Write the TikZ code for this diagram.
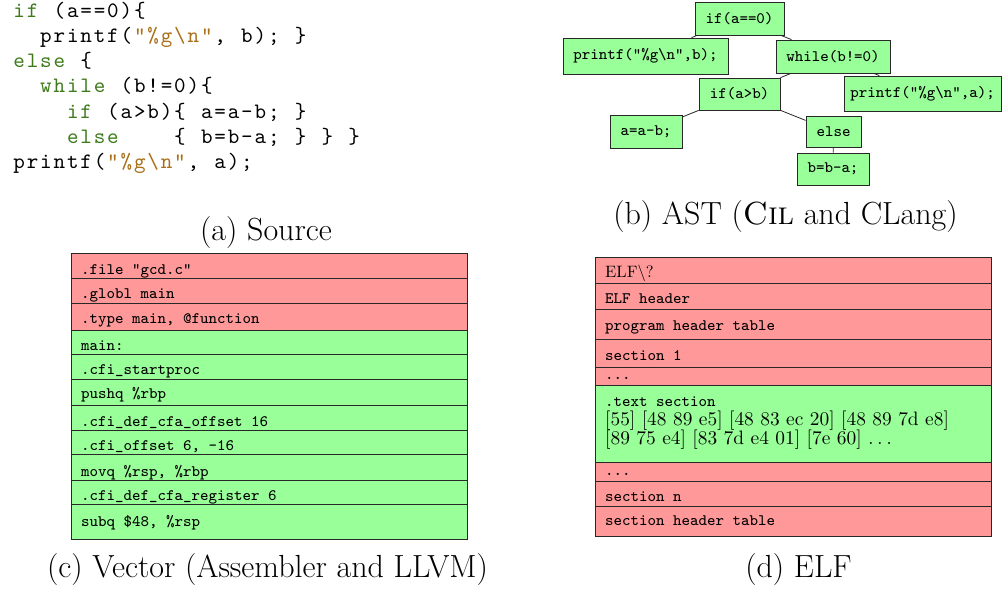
\documentclass[tikz,border=0pt]{standalone}
\usepackage{fontspec}
\newfontfamily\ttviii{lmmono8-regular.otf}
\newfontfamily\ttx{lmmono10-regular.otf}
\newfontfamily\rmx{lmroman10-regular.otf}
\definecolor{grn}{RGB}{153,255,153}
\definecolor{rd}{RGB}{255,153,153}
\definecolor{kwc}{RGB}{62,122,28}
\definecolor{stc}{RGB}{168,112,24}
\definecolor{frame}{RGB}{40,40,40}
\newcommand\codefont{\fontsize{22}{24}\selectfont\ttx}
\newcommand\tabtt{\fontsize{16}{19}\selectfont\ttviii}
\newcommand\tabrm{\fontsize{19.4}{19.5}\selectfont\rmx}
\newcommand\tabrms{\fontsize{16.5}{19.5}\selectfont\rmx}
\newcommand\capfont{\fontsize{32}{36}\selectfont\rmfamily}
\newlength\pitchlen
\setlength\pitchlen{13.4pt}
\def\cloop#1{\ifx#1\relax\else\makebox[\pitchlen][c]{#1}\expandafter\cloop\fi}
\newcommand\cd[1]{\cloop#1\relax}
\newcommand\kw[1]{{\color{kwc}\cloop#1\relax}}
\newcommand\st[1]{{\color{stc}\cloop#1\relax}}
\tikzset{
  astnode/.style={draw=frame, fill=grn, line width=0.8pt, inner sep=0pt, font=\tabtt},
  rowred/.style={draw=frame, fill=rd, line width=0.8pt},
  rowgrn/.style={draw=frame, fill=grn, line width=0.8pt},
  rowtxt/.style={anchor=base west, inner sep=0pt, font=\tabtt},
  rowrm/.style={anchor=base west, inner sep=0pt, font=\tabrm},
  rowrms/.style={anchor=base west, inner sep=0pt, font=\tabrms},
  codeline/.style={anchor=base west, inner sep=0pt, font=\codefont},
  captxt/.style={anchor=base, inner sep=0pt, font=\capfont},
  astedge/.style={draw=frame, line width=0.8pt}
}
\begin{document}
\begin{tikzpicture}[x=1pt,y=-1pt]
\useasboundingbox (0,0) rectangle (1002,590);

% ---------- (a) Source ----------
\node[codeline] (c1) at (12.3,17) {\kw{if}\cd{~(a==0)\{}};
\node[codeline] (c2) at (12.3,42.3) {\cd{~~printf(}\st{"\%g\textbackslash n"}\cd{,~b);~\}}};
\node[codeline] (c3) at (12.3,67.6) {\kw{else}\cd{~\{}};
\node[codeline] (c4) at (12.3,92.9) {\cd{~~}\kw{while}\cd{~(b!=0)\{}};
\node[codeline] (c5) at (12.3,118.2) {\cd{~~~~}\kw{if}\cd{~(a>b)\{~a=a-b;~\}}};
\node[codeline] (c6) at (12.3,143.5) {\cd{~~~~}\kw{else}\cd{~~~~\{~b=b-a;~\}~\}~\}}};
\node[codeline] (c7) at (12.3,168.8) {\cd{printf(}\st{"\%g\textbackslash n"}\cd{,~a);}};
\node[captxt] (capa) at (266,240) {(a) Source};

% ---------- (b) AST ----------
\node[astnode, minimum width=89pt, minimum height=33pt] (n1) at (739.5,18.5) {if(a==0)};
\node[astnode, minimum width=165pt, minimum height=36pt] (n2) at (645.5,56) {printf("\%g\textbackslash n",b);};
\node[astnode, minimum width=114pt, minimum height=33pt] (n3) at (833,56.5) {while(b!=0)};
\node[astnode, minimum width=81pt, minimum height=32pt] (n4) at (739.5,94) {if(a>b)};
\node[astnode, minimum width=157pt, minimum height=35pt] (n5) at (922.7,93.5) {printf("\%g\textbackslash n",a);};
\node[astnode, minimum width=72pt, minimum height=33pt] (n6) at (646,131.5) {a=a-b;};
\node[astnode, minimum width=55pt, minimum height=31pt] (n7) at (833.5,131.5) {else};
\node[astnode, minimum width=72pt, minimum height=32pt] (n8) at (833,169) {b=b-a;};
\draw[astedge] (n1) -- (n2);
\draw[astedge] (n1) -- (n3);
\draw[astedge] (n3) -- (n4);
\draw[astedge] (n3) -- (n5);
\draw[astedge] (n4) -- (n6);
\draw[astedge] (n4) -- (n7);
\draw[astedge] (n7) -- (n8);
\node[captxt] (capb) at (785.5,224) {(b) AST (\textsc{Cil} and CLang)};

% ---------- (c) Vector ----------
\draw[rowred] (71,253) rectangle (467,278);
\draw[rowred] (71,278) rectangle (467,303);
\draw[rowred] (71,303) rectangle (467,330);
\draw[rowgrn] (71,330) rectangle (467,354);
\draw[rowgrn] (71,354) rectangle (467,379);
\draw[rowgrn] (71,379) rectangle (467,405);
\draw[rowgrn] (71,405) rectangle (467,430);
\draw[rowgrn] (71,430) rectangle (467,454);
\draw[rowgrn] (71,454) rectangle (467,480);
\draw[rowgrn] (71,480) rectangle (467,504);
\draw[rowgrn] (71,504) rectangle (467,539);
\node[rowtxt] (v1) at (81,274) {.file "gcd.c"};
\node[rowtxt] (v2) at (81,298.5) {.globl main};
\node[rowtxt] (v3) at (81,323.5) {.type main, @function};
\node[rowtxt] (v4) at (81,350) {main:};
\node[rowtxt] (v5) at (81,374.5) {.cfi\_startproc};
\node[rowtxt] (v6) at (81,398.5) {pushq \%rbp};
\node[rowtxt] (v7) at (81,426) {.cfi\_def\_cfa\_offset 16};
\node[rowtxt] (v8) at (81,450) {.cfi\_offset 6, -16};
\node[rowtxt] (v9) at (81,476) {movq \%rsp, \%rbp};
\node[rowtxt] (v10) at (81,500) {.cfi\_def\_cfa\_register 6};
\node[rowtxt] (v11) at (81,526) {subq \$48, \%rsp};
\node[captxt] (capc) at (267.5,577) {(c) Vector (Assembler and LLVM)};

% ---------- (d) ELF ----------
\draw[rowred] (595,257) rectangle (991,283);
\draw[rowred] (595,283) rectangle (991,309);
\draw[rowred] (595,309) rectangle (991,339);
\draw[rowred] (595,339) rectangle (991,367);
\draw[rowred] (595,367) rectangle (991,385);
\draw[rowgrn] (595,385) rectangle (991,462);
\draw[rowred] (595,462) rectangle (991,481);
\draw[rowred] (595,481) rectangle (991,506);
\draw[rowred] (595,506) rectangle (991,536);
\node[rowrms] (e1) at (605,277.5) {ELF\textbackslash?};
\node[rowtxt] (e2) at (605,303.5) {ELF header};
\node[rowtxt] (e3) at (605,330) {program header table};
\node[rowtxt] (e4) at (605,360) {section 1};
\node[rowtxt] (e5) at (605,379.5) {...};
\node[rowtxt] (e6) at (605,406) {.text section};
\node[rowrm] (e7) at (605,425) {[55] [48 89 e5] [48 83 ec 20] [48 89 7d e8]};
\node[rowrm] (e8) at (605,444) {[89 75 e4] [83 7d e4 01] [7e 60] $\ldots$};
\node[rowtxt] (e9) at (605,475) {...};
\node[rowtxt] (e10) at (605,501.5) {section n};
\node[rowtxt] (e11) at (605,525) {section header table};
\node[captxt] (capd) at (798.5,577) {(d) ELF};
\end{tikzpicture}
\end{document}
